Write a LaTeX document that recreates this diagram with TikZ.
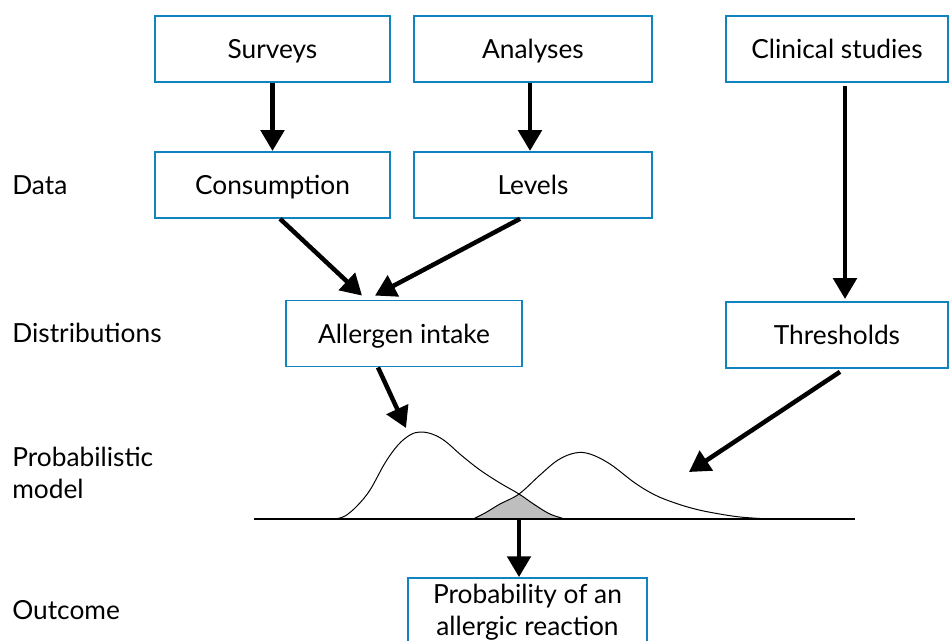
\documentclass[tikz,border=0pt]{standalone}
\usepackage{fontspec}
\setmainfont{Lato}
\usepackage{tikz}
\usetikzlibrary{arrows.meta,positioning,calc}
\definecolor{boxblue}{RGB}{16,132,192}
\definecolor{overlapgray}{RGB}{190,190,190}

% intake and threshold distributions (pixel units)
\def\intakecurve{plot[smooth, tension=0.6] coordinates {(335,519) (345,516) (357,506) (370,490) (385,463) (398,445) (410,435) (420,432) (432,434) (445,441) (461,455) (480,470) (500,483) (519,494) (535,505) (550,514) (565,519)}}
\def\thresholdcurve{plot[smooth, tension=0.6] coordinates {(473,519) (485,513) (500,504) (519,494) (540,475) (558,460) (575,453) (590,454) (610,464) (635,483) (655,495) (675,503) (695,509) (714,513) (740,517) (770,519)}}

\begin{document}
\begin{tikzpicture}[
    x=0.025cm, y=-0.025cm,
    every node/.style={font=\fontsize{18.7}{23}\selectfont},
    box/.style={draw=boxblue, line width=1.3pt, minimum height=1.65cm, inner sep=0pt, fill=white},
    onetext/.style={text height=14pt, text depth=0pt},
    rowlabel/.style={anchor=west, align=left, inner sep=0pt},
    arr/.style={-{Triangle[length=0.52cm, width=0.58cm]}, line width=3.2pt},
    curve/.style={line width=0.7pt},
]
    \useasboundingbox (0,0) rectangle (949,640);

    % Sources
    \node[box, onetext, minimum width=5.875cm] (surveys) at (272.5,49) {Surveys};
    \node[box, onetext, minimum width=5.95cm] (analyses) at (533,49) {Analyses};
    \node[box, onetext, minimum width=5.55cm] (clinical) at (837,49) {Clinical studies};

    % Data
    \node[box, onetext, minimum width=5.875cm, below=1.7cm of surveys] (consumption) {Consumption};
    \node[box, onetext, minimum width=5.95cm, below=1.7cm of analyses] (levels) {Levels};
    \draw[arr] (surveys) -- (consumption);
    \draw[arr] ([xshift=-0.075cm]analyses.south) -- ([xshift=-0.075cm]levels.north);

    % Distributions
    \node[box, onetext, minimum width=5.9cm] (allergen) at (404,333.5) {Allergen intake};
    \node[box, onetext, minimum width=5.55cm, below=5.45cm of clinical] (thresholds) {Thresholds};
    \draw[arr] ($(consumption.south)+(7.5,0)$) -- ($(allergen.north)+(-42,-4)$);
    \draw[arr] ($(levels.south)+(-13,0)$) -- ($(allergen.north)+(-29,-4)$);
    \draw[arr] ($(clinical.south)+(8,3)$) -- ($(thresholds.north)+(8,-2)$);

    % Probabilistic model
    \coordinate (axisL) at (254,519);
    \coordinate (axisR) at (855,519);
    \coordinate (intakepeak) at (406,428);
    \coordinate (thresholdside) at (689,472);
    \coordinate (overlap) at (519,520);
    \begin{scope}
        \clip \intakecurve -- cycle;
        \fill[overlapgray] \thresholdcurve -- cycle;
    \end{scope}
    \draw[line width=0.9pt] (axisL) -- (axisR);
    \draw[curve] \intakecurve;
    \draw[curve] \thresholdcurve;
    \draw[arr] ($(allergen.south)+(-26,0)$) -- (intakepeak);
    \draw[arr] ($(thresholds.south)+(3,3)$) -- (thresholdside);

    % Outcome
    \node[box, minimum width=5.975cm, minimum height=1.7cm, align=center] (outcome) at (527.5,612) {Probability of an\\allergic reaction};
    \draw[arr] (overlap) -- (overlap |- outcome.north);

    % Row labels
    \node[rowlabel] (data) at (12,185) {Data};
    \node[rowlabel] (dists) at (12,333) {Distributions};
    \node[rowlabel] (model) at (12,473) {Probabilistic\\model};
    \node[rowlabel] (result) at (12,610) {Outcome};
\end{tikzpicture}
\end{document}
